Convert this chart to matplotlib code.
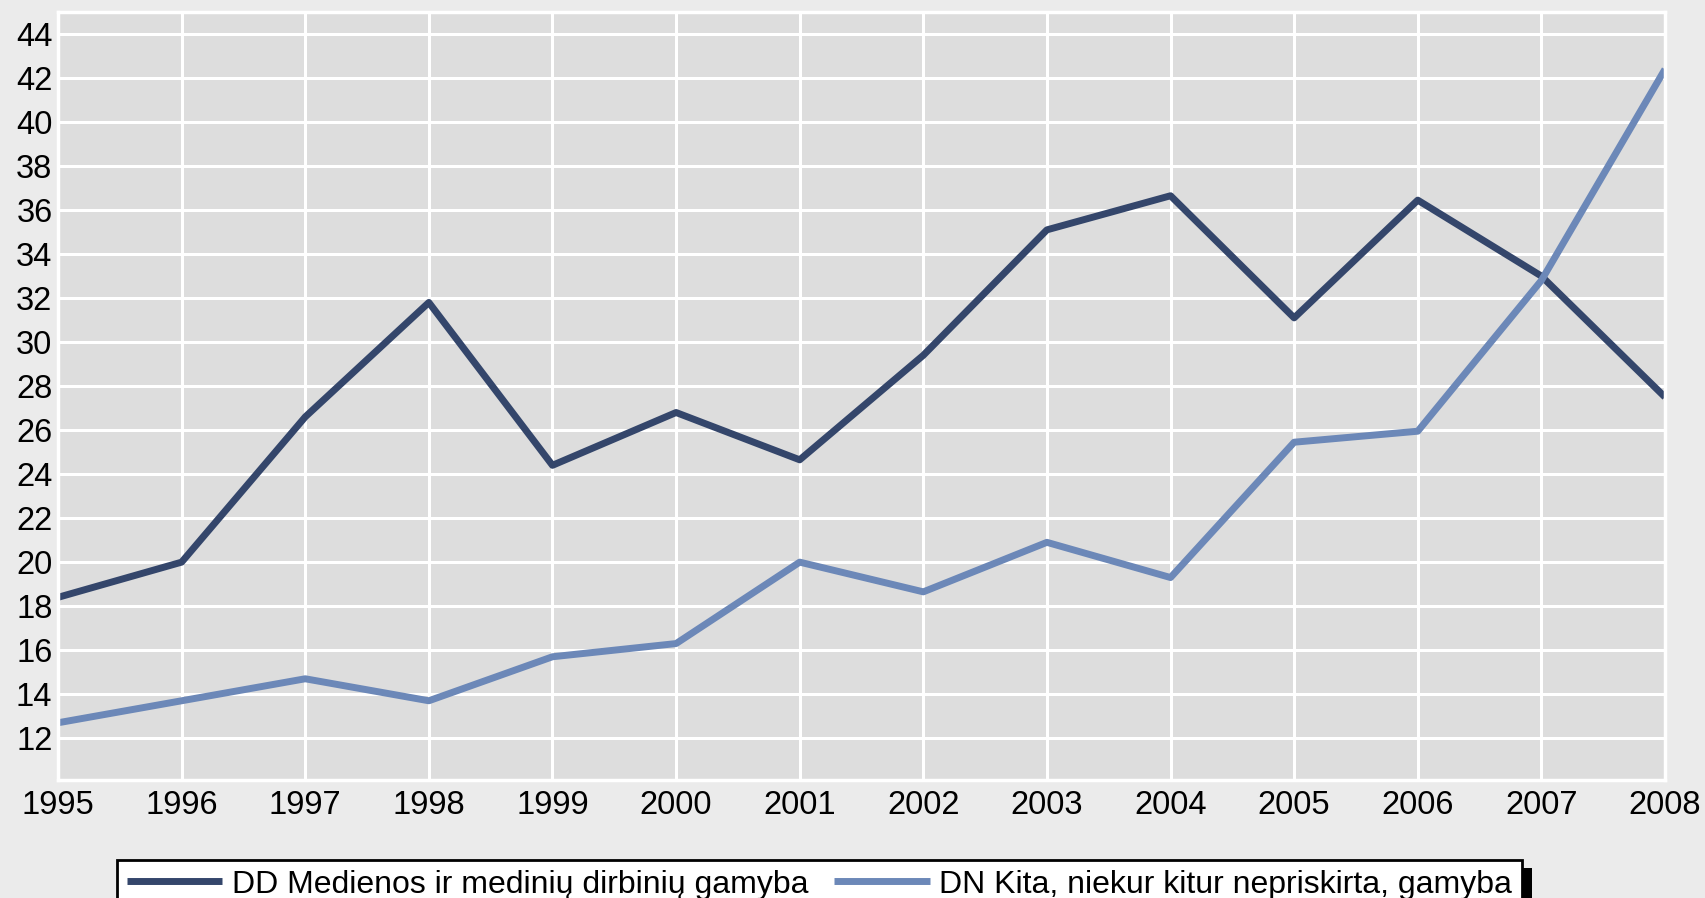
import matplotlib
matplotlib.use("Agg")
import matplotlib.pyplot as plt
from matplotlib.patches import Rectangle

# Duomenys (nuskaityti nuo grafiko)
metai = list(range(1995, 2009))
dd_mediena = [18.4, 20.0, 26.6, 31.8, 24.4, 26.8, 24.65, 29.4, 35.1, 36.65, 31.1, 36.45, 33.0, 27.5]
dn_kita = [12.7, 13.7, 14.7, 13.7, 15.7, 16.3, 20.0, 18.65, 20.9, 19.3, 25.45, 25.95, 32.8, 42.4]
y_ticks = list(range(12, 46, 2))

label_dd = "DD Medienos ir medinių dirbinių gamyba"
label_dn = "DN Kita, niekur kitur nepriskirta, gamyba"

spalva_dd = "#34466B"
spalva_dn = "#6C88B8"

plt.rcParams['font.family'] = ['Liberation Sans', 'DejaVu Sans']

fig = plt.figure(figsize=(17.06, 8.98), dpi=100, facecolor="#EBEBEB")
ax = fig.add_axes([58 / 1706, 1 - 780 / 898, (1665 - 58) / 1706, (780 - 12) / 898])
ax.set_facecolor("#DDDDDD")

ax.plot(metai, dd_mediena, color=spalva_dd, lw=5, label=label_dd, solid_capstyle="butt")
ax.plot(metai, dn_kita, color=spalva_dn, lw=5, label=label_dn, solid_capstyle="butt")

ax.set_xlim(1995, 2008)
ax.set_ylim(10.1, 45)
ax.set_xticks(metai)
ax.set_yticks(y_ticks)
ax.grid(True, color="white", lw=2.2)
ax.set_axisbelow(True)
for s in ax.spines.values():
    s.set_color("white")
    s.set_linewidth(2.5)
ax.tick_params(axis="both", length=0, labelsize=23.5)
ax.tick_params(axis="y", pad=4)
ax.tick_params(axis="x", pad=7)

leg = fig.legend(loc="upper left", bbox_to_anchor=(117 / 1706, 1 - 860 / 898),
                 ncol=2, fontsize=23, frameon=True, fancybox=False,
                 edgecolor="black", facecolor="white", framealpha=1,
                 handlelength=3.0, handletextpad=0.3, columnspacing=0.8,
                 borderpad=0.3, borderaxespad=0)
leg.get_frame().set_linewidth(2)

# juodas šešėlis dešinėje
fig.canvas.draw()
bb = leg.get_window_extent().transformed(fig.transFigure.inverted())
fig.patches.append(Rectangle((bb.x1, bb.y0 - 0.02), 10 / 1706, bb.height - 8 / 898 + 0.02,
                             transform=fig.transFigure, facecolor="black",
                             edgecolor="none", zorder=0))

fig.savefig("out.png", dpi=100, facecolor=fig.get_facecolor())
